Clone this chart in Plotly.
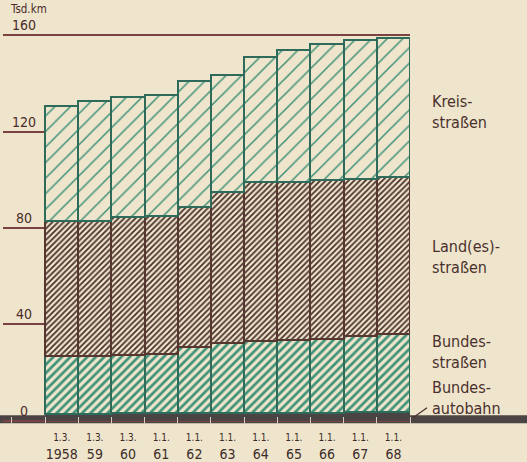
import plotly.graph_objects as go

# ---- data (Tsd. km) ----
dates = ["1.3.", "1.3.", "1.3.", "1.1.", "1.1.", "1.1.", "1.1.", "1.1.", "1.1.", "1.1.", "1.1."]
years = ["1958", "59", "60", "61", "62", "63", "64", "65", "66", "67", "68"]
autobahn = [2.8, 2.9, 3.0, 3.0, 3.1, 3.2, 3.3, 3.4, 3.4, 3.5, 3.6]
bundesstrassen = [24.2, 24.1, 24.4, 24.7, 27.3, 29.0, 29.6, 29.9, 30.5, 31.5, 32.4]
landesstrassen = [56.0, 56.0, 57.2, 57.4, 58.5, 62.7, 66.2, 65.7, 66.1, 65.5, 65.0]
kreisstrassen = [47.7, 49.5, 49.6, 50.1, 52.2, 48.7, 52.0, 54.9, 56.3, 57.4, 57.9]
y_ticks = [0, 40, 80, 120, 160]

BG = "#eee5cc"
GREEN = "#3f9279"
GREEN_EDGE = "#2f6b5a"
BROWN = "#4a2e2a"
BROWN_EDGE = "#55372f"
TEXT = "#4a302c"
GRID = "#7a4242"
BAND = "#4a4444"
FONT = "Liberation Sans Narrow, DejaVu Sans Condensed, Arial Narrow, sans-serif"

x = list(range(len(years)))
ticktext = [f"<span style='font-size:10px'>{d}</span><br>{y}" for d, y in zip(dates, years)]

fig = go.Figure()
fig.add_bar(x=x, y=autobahn, name="Bundesautobahn", width=1,
            marker=dict(color=BAND, line=dict(color=BAND, width=0)))
fig.add_bar(x=x, y=bundesstrassen, name="Bundesstraßen", width=1,
            marker=dict(color=BG, line=dict(color=GREEN_EDGE, width=2),
                        pattern=dict(shape="/", fgcolor=GREEN, bgcolor=BG,
                                     size=6, solidity=0.45, fillmode="replace")))
fig.add_bar(x=x, y=landesstrassen, name="Land(es)straßen", width=1,
            marker=dict(color=BG, line=dict(color=BROWN_EDGE, width=2),
                        pattern=dict(shape="/", fgcolor=BROWN, bgcolor=BG,
                                     size=4, solidity=0.45, fillmode="replace")))
fig.add_bar(x=x, y=kreisstrassen, name="Kreisstraßen", width=1,
            marker=dict(color=BG, line=dict(color=GREEN_EDGE, width=2.4),
                        pattern=dict(shape="/", fgcolor=GREEN, bgcolor=BG,
                                     size=11, solidity=0.14, fillmode="replace")))

fig.update_layout(
    barmode="stack", bargap=0,
    width=527, height=462,
    margin=dict(l=3, r=117, t=34, b=38),
    paper_bgcolor=BG, plot_bgcolor=BG,
    showlegend=False,
    font=dict(family=FONT, color=TEXT),
)
fig.update_xaxes(
    range=[-1.77, 10.5], tickvals=x, ticktext=ticktext, automargin=False,
    tickfont=dict(size=14, color="#3c2c2a", family=FONT),
    ticklabelstandoff=2,
    showgrid=False, zeroline=False, showline=False, ticks="",
    minor=dict(tick0=0.5, dtick=1, ticks="inside", ticklen=7,
               tickcolor="#d6cfc0", tickwidth=1, showgrid=False),
)
fig.update_yaxes(
    range=[-1.36, 160.5], tickvals=y_ticks, automargin=False,
    showticklabels=False,
    showgrid=True, gridcolor=GRID, gridwidth=1.5,
    zeroline=False, showline=False,
)

# y tick labels sitting above their grid lines
for v in y_ticks:
    fig.add_annotation(text=str(v), xref="paper", yref="y", x=0.052, y=v,
                       xanchor="center", yanchor="bottom", yshift=0, showarrow=False,
                       font=dict(size=14, color="#4a2a2a", family=FONT))

# dark baseline band
fig.add_shape(type="rect", xref="paper", yref="y", x0=-0.02, x1=1.3, y0=-1.0, y1=2.3,
              fillcolor=BAND, line=dict(width=0), layer="below")
# small slash pointing to the Autobahn band
fig.add_shape(type="line", xref="paper", yref="y", x0=1.0074, x1=1.0418, y0=1.2, y1=5.4,
              line=dict(color=TEXT, width=1.2))

labels = [("Kreis-<br>straßen", 128), ("Land(es)-<br>straßen", 68),
          ("Bundes-<br>straßen", 28.5), ("Bundes-<br>autobahn", 9.3)]
for txt, yv in labels:
    fig.add_annotation(text=txt, xref="paper", yref="y", x=1.049, y=yv,
                       xanchor="left", yanchor="middle", align="left", showarrow=False,
                       font=dict(size=16, color=TEXT, family=FONT))

fig.add_annotation(text="Tsd.km", xref="paper", yref="paper", x=0.012, y=1.064,
                   xanchor="left", yanchor="middle", showarrow=False,
                   font=dict(size=11.5, color="#4a2a2a", family=FONT))

fig.write_html("out.html", config={"displayModeBar": False},
               post_script="document.body.style.margin='0';")
